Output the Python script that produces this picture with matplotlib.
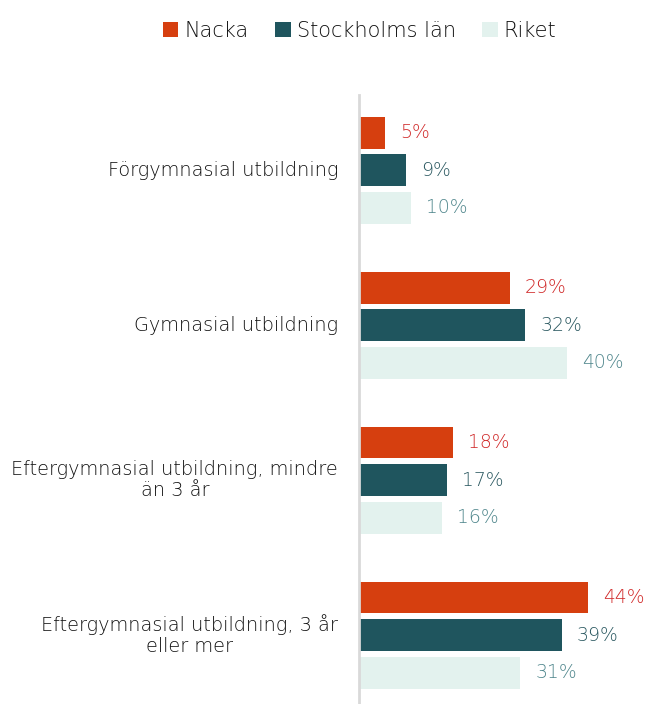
import matplotlib
matplotlib.use("Agg")
import matplotlib.pyplot as plt
from matplotlib.patches import Patch
import numpy as np

categories = ["Förgymnasial utbildning", "Gymnasial utbildning",
              "Eftergymnasial utbildning, mindre\nän 3 år",
              "Eftergymnasial utbildning, 3 år\neller mer"]
series = ["Nacka", "Stockholms län", "Riket"]
nacka = [5, 29, 18, 44]
sthlm = [9, 32, 17, 39]
riket = [10, 40, 16, 31]

colors = ["#D63F0F", "#1F555E", "#E3F2EE"]
label_colors = ["#D02828", "#2A5860", "#4F868C"]

plt.rcParams['font.family'] = ['DejaVu Sans']

fig = plt.figure(figsize=(6.48, 7.04), dpi=100)
ax = fig.add_axes([0.554, 0.0, 0.446, 0.865])

y = np.arange(len(categories))
off = 0.242
h = 0.206
for i, (vals, c, lc) in enumerate(zip([nacka, sthlm, riket], colors, label_colors)):
    ypos = y + (i - 1) * off
    ax.barh(ypos, vals, height=h, color=c)
    for yy, v in zip(ypos, vals):
        ax.text(v + 2.9, yy, f"{v}%", va='center', ha='left', fontsize=13.5,
                color=lc, fontweight=200)

ax.set_xlim(0, 55.6)
ax.set_ylim(3.445, -0.484)
for s in ['top', 'right', 'bottom']:
    ax.spines[s].set_visible(False)
ax.spines['left'].set_color('#D9D9D9')
ax.spines['left'].set_linewidth(2)
ax.set_xticks([])
ax.set_yticks([])
for yy, cat in zip(y, categories):
    ax.text(-4.0, yy, cat, ha='right', va='center', multialignment='center',
            fontsize=13.9, color='#111111', fontweight=200, linespacing=1.15)

handles = [Patch(facecolor=c, edgecolor='none') for c in colors]
fig.legend(handles, series, loc='upper center', bbox_to_anchor=(0.555, 0.997),
           ncol=3, frameon=False, handlelength=0.75, handleheight=0.75,
           handletextpad=0.3, columnspacing=1.25, labelcolor='#111111',
           prop={'weight': 200, 'size': 15})

fig.savefig("out.png", dpi=100)
